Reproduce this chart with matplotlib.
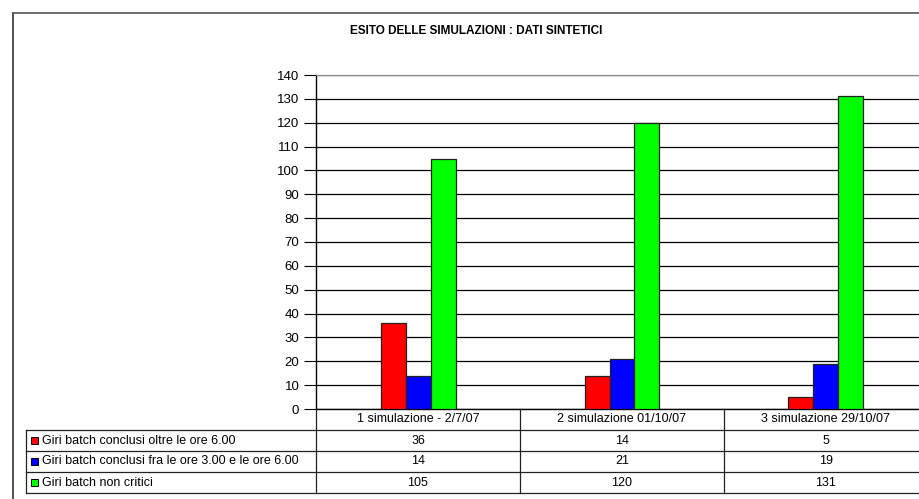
import matplotlib.pyplot as plt
import matplotlib.transforms as mtransforms
from matplotlib.lines import Line2D
from matplotlib.patches import Rectangle

plt.rcParams['font.family'] = ['Liberation Sans', 'DejaVu Sans']

# Data
categories = ['1 simulazione - 2/7/07', '2 simulazione 01/10/07', '3 simulazione 29/10/07']
series_names = ['Giri batch conclusi oltre le ore 6.00',
                'Giri batch conclusi fra le ore 3.00 e le ore 6.00',
                'Giri batch non critici']
oltre_6 = [36, 14, 5]
fra_3_6 = [14, 21, 19]
non_critici = [105, 120, 131]
series = [oltre_6, fra_3_6, non_critici]
colors = ['#FF0000', '#0000FF', '#00FF00']
yticks = list(range(0, 141, 10))

W, H = 920, 499


def fx(px):
    return px / W


def fy(py):
    return 1 - py / H


fig = plt.figure(figsize=(W / 100, H / 100), dpi=100)
fig.patch.set_facecolor('white')

# plot area (right edge lies beyond the picture, as in the reference)
ax = fig.add_axes([fx(316), fy(409), fx(928) - fx(316), fy(75) - fy(409)])
ax.set_xlim(0, len(categories))
ax.set_ylim(0, 140)
ax.set_yticks(yticks)
ax.set_xticks([])
ax.tick_params(axis='y', direction='out', length=9, width=0.8, labelsize=9.5, pad=3)
ax.yaxis.grid(True, color='black', lw=0.9)
ax.set_axisbelow(True)
for s in ['left', 'bottom']:
    ax.spines[s].set_color('black')
    ax.spines[s].set_linewidth(1)
ax.spines['top'].set_color('#888888')
ax.spines['right'].set_visible(False)

bw = 25 / 204
for i, (vals, col) in enumerate(zip(series, colors)):
    xs = [k + 0.5 + (i - 1) * bw for k in range(len(categories))]
    ax.bar(xs, vals, width=bw, color=col, edgecolor='#222222', linewidth=0.9, zorder=3)

# title
fig.text(fx(476), fy(31), 'ESITO DELLE SIMULAZIONI : DATI SINTETICI',
         ha='center', va='center', fontsize=8.5, fontweight='bold')

# outer frame
fig.add_artist(Line2D([fx(13.5), fx(13.5)], [fy(12.5), fy(505)], color='#333333', lw=1.2,
                      transform=fig.transFigure))
fig.add_artist(Line2D([fx(13.5), fx(925)], [fy(12.5), fy(12.5)], color='#555555', lw=1.2,
                      transform=fig.transFigure))

# data table
trans = mtransforms.blended_transform_factory(ax.transData, fig.transFigure)
row_y = [409, 430, 451, 472, 493]
tab_left = 26
lc = '#222222'
for r in row_y[1:]:
    fig.add_artist(Line2D([fx(tab_left), fx(925)], [fy(r), fy(r)], color=lc, lw=0.9,
                          transform=fig.transFigure))
fig.add_artist(Line2D([fx(tab_left), fx(tab_left)], [fy(430), fy(493)], color=lc, lw=0.9,
                      transform=fig.transFigure))
for k in range(len(categories)):
    fig.add_artist(Line2D([k, k], [fy(409), fy(493)], color=lc, lw=0.9, transform=trans))

for k, cat in enumerate(categories):
    fig.text(k + 0.5, fy((row_y[0] + row_y[1]) / 2), cat, transform=trans,
             ha='center', va='center', fontsize=9)
    for i, vals in enumerate(series):
        fig.text(k + 0.5, fy((row_y[i + 1] + row_y[i + 2]) / 2), str(vals[k]),
                 transform=trans, ha='center', va='center', fontsize=9)

for i, (name, col) in enumerate(zip(series_names, colors)):
    yc = (row_y[i + 1] + row_y[i + 2]) / 2
    fig.add_artist(Rectangle((fx(31), fy(yc + 3.5)), fx(7), fy(yc - 3.5) - fy(yc + 3.5),
                             facecolor=col, edgecolor='black', lw=0.7,
                             transform=fig.transFigure))
    fig.text(fx(42), fy(yc), name, ha='left', va='center', fontsize=9)

fig.savefig('out.png', dpi=100)
